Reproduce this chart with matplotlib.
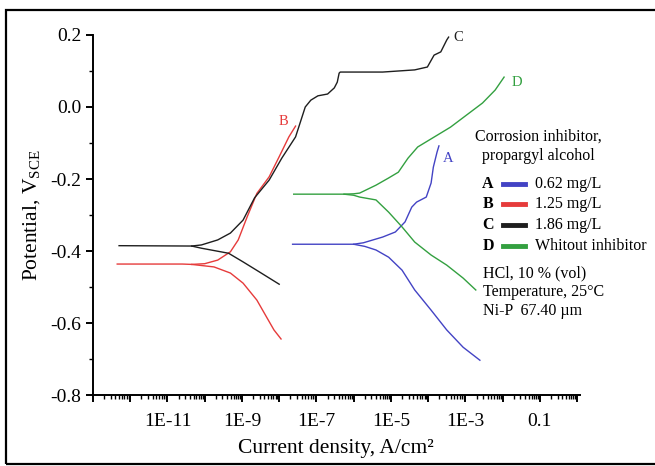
import matplotlib
matplotlib.use("Agg")
import matplotlib.pyplot as plt
import numpy as np
from matplotlib.ticker import LogLocator, NullFormatter, MultipleLocator
from matplotlib.patches import Rectangle

plt.rcParams['font.family'] = ['Liberation Serif', 'DejaVu Serif']
plt.rcParams['mathtext.fontset'] = 'custom'
plt.rcParams['mathtext.rm'] = 'Liberation Serif'
plt.rcParams['axes.unicode_minus'] = False

# log10(current density, A/cm2) and potential (V vs SCE)
# A - 0.62 mg/L
a_cat_logi = [-7.64, -6.0, -5.70, -5.40, -5.06, -4.70, -4.36, -3.92, -3.50, -3.06, -2.61]
a_cat_v = [-0.381, -0.381, -0.387, -0.397, -0.417, -0.453, -0.508, -0.564, -0.619, -0.667, -0.703]
a_an_logi = [-6.0, -5.74, -5.22, -4.88, -4.62, -4.44, -4.31, -4.05, -3.92, -3.86, -3.76, -3.71]
a_an_v = [-0.381, -0.377, -0.361, -0.347, -0.319, -0.278, -0.264, -0.250, -0.211, -0.167, -0.125, -0.108]

# B - 1.25 mg/L
b_cat_logi = [-12.35, -10.6, -10.35, -9.75, -9.31, -8.97, -8.60, -8.34, -8.14, -7.95]
b_cat_v = [-0.436, -0.436, -0.437, -0.444, -0.461, -0.489, -0.536, -0.583, -0.619, -0.644]
b_an_logi = [-10.35, -10.0, -9.65, -9.31, -9.10, -8.86, -8.60, -8.27, -8.0, -7.74, -7.56]
b_an_v = [-0.437, -0.435, -0.425, -0.402, -0.369, -0.305, -0.240, -0.194, -0.138, -0.083, -0.053]

# C - 1.86 mg/L
c_cat_logi = [-12.30, -10.35, -10.09, -9.36, -8.97, -8.53, -8.0]
c_cat_v = [-0.385, -0.386, -0.392, -0.406, -0.430, -0.458, -0.492]
c_an_logi = [-10.35, -10.09, -9.65, -9.31, -8.97, -8.66, -8.27, -7.93, -7.56, -7.30,
             -7.15, -6.96, -6.70, -6.52, -6.44, -6.39, -6.36, -5.22, -4.36, -4.02,
             -3.84, -3.66, -3.50, -3.45]
c_an_v = [-0.386, -0.383, -0.369, -0.350, -0.314, -0.252, -0.203, -0.142, -0.083, 0.0,
          0.019, 0.031, 0.036, 0.053, 0.069, 0.094, 0.097, 0.097, 0.103, 0.111,
          0.144, 0.153, 0.186, 0.194]

# D - without inhibitor
d_cat_logi = [-7.61, -6.26, -6.0, -5.84, -5.40, -5.06, -4.70, -4.36, -3.92, -3.50, -3.06, -2.72]
d_cat_v = [-0.242, -0.242, -0.245, -0.250, -0.258, -0.292, -0.333, -0.375, -0.411, -0.439, -0.475, -0.508]
d_an_logi = [-6.26, -6.0, -5.84, -5.40, -5.06, -4.80, -4.54, -4.28, -3.40, -2.54, -2.20, -1.96]
d_an_v = [-0.242, -0.241, -0.239, -0.217, -0.197, -0.181, -0.142, -0.111, -0.056, 0.011, 0.047, 0.083]

legend_letters = ["A", "B", "C", "D"]
legend_labels = ["0.62 mg/L", "1.25 mg/L", "1.86 mg/L", "Whitout inhibitor"]
colors = ["#4343c4", "#e63b3b", "#1e1e1e", "#33a040"]
notes = ["HCl, 10 % (vol)", "Temperature, 25°C", "Ni-P  67.40 µm"]

x_major = [1e-13, 1e-12, 1e-11, 1e-10, 1e-9, 1e-8, 1e-7, 1e-6, 1e-5, 1e-4, 1e-3, 1e-2, 1e-1, 1e0]
x_labels = ["", "", "1E-11", "", "1E-9", "", "1E-7", "", "1E-5", "", "1E-3", "", "0.1", ""]


def main():
    fig = plt.figure(figsize=(6.55, 4.66), dpi=100)
    ax = fig.add_axes([0.142, 0.152, 0.743, 0.773])

    curves = [
        (a_cat_logi, a_cat_v, a_an_logi, a_an_v),
        (b_cat_logi, b_cat_v, b_an_logi, b_an_v),
        (c_cat_logi, c_cat_v, c_an_logi, c_an_v),
        (d_cat_logi, d_cat_v, d_an_logi, d_an_v),
    ]
    offsets = [(7, -9), (-9, 3), (7, 0), (9, -4)]
    for (cl, cv, al, av), col, let, off in zip(curves, colors, legend_letters, offsets):
        ax.plot(10.0 ** np.array(cl), cv, color=col, lw=1.0)
        ax.plot(10.0 ** np.array(al), av, color=col, lw=1.0)
        ax.annotate(let, (10.0 ** al[-1], av[-1]), xytext=off, textcoords="offset points",
                    color=col, fontsize=10.5, ha="center", va="center")

    ax.set_xscale("log")
    ax.set_xlim(10 ** -12.61, 10 ** 0.07)
    ax.set_ylim(-0.8, 0.2)

    ax.set_xticks(x_major)
    ax.set_xticklabels(x_labels)
    ax.xaxis.set_minor_locator(LogLocator(base=10, subs=np.arange(2, 10), numticks=100))
    ax.xaxis.set_minor_formatter(NullFormatter())
    ax.set_yticks([0.2, 0.0, -0.2, -0.4, -0.6, -0.8])
    ax.set_yticklabels(["0.2", "0.0", "-0.2", "-0.4", "-0.6", "-0.8"])
    ax.yaxis.set_minor_locator(MultipleLocator(0.1))

    for s in ["top", "right"]:
        ax.spines[s].set_visible(False)
    for s in ["left", "bottom"]:
        ax.spines[s].set_linewidth(1.4)
    ax.tick_params(axis="both", which="major", direction="out", width=1.4, length=5, labelsize=14)
    ax.tick_params(axis="both", which="minor", direction="out", width=1.0, length=3)
    ax.tick_params(axis="x", which="major", pad=8)

    ax.set_xlabel("Current density, A/cm²", fontsize=15.5, labelpad=6)
    ax.set_ylabel(r"Potential, V$_{\mathrm{SCE}}$", fontsize=15.5, labelpad=5)

    # legend block drawn as text
    fig.text(538 / 655, 1 - 137 / 466, "Corrosion inhibitor,", fontsize=11.5, ha="center", va="center")
    fig.text(538 / 655, 1 - 156 / 466, "propargyl alcohol", fontsize=11.5, ha="center", va="center")
    rows = [184, 204, 225, 246]
    for yy, let, lab, col in zip(rows, legend_letters, legend_labels, colors):
        yf = 1 - yy / 466
        fig.text(488 / 655, yf, let, fontsize=11.5, fontweight="bold", ha="center", va="center")
        fig.add_artist(plt.Line2D([503 / 655, 525 / 655], [yf, yf], color=col, lw=3.5,
                                  transform=fig.transFigure))
        fig.text(535 / 655, yf, lab, fontsize=11.5, ha="left", va="center")
    for i, n in enumerate(notes):
        fig.text(483 / 655, 1 - (273 + 19 * i) / 466, n, fontsize=11.5, ha="left", va="center")

    # frame around the figure
    fig.add_artist(Rectangle((6 / 655, 2 / 466), 1.2, 1 - 12 / 466, transform=fig.transFigure,
                             fill=False, edgecolor="black", lw=1.6, clip_on=False))

    fig.savefig("out.png", dpi=100)


if __name__ == "__main__":
    main()
